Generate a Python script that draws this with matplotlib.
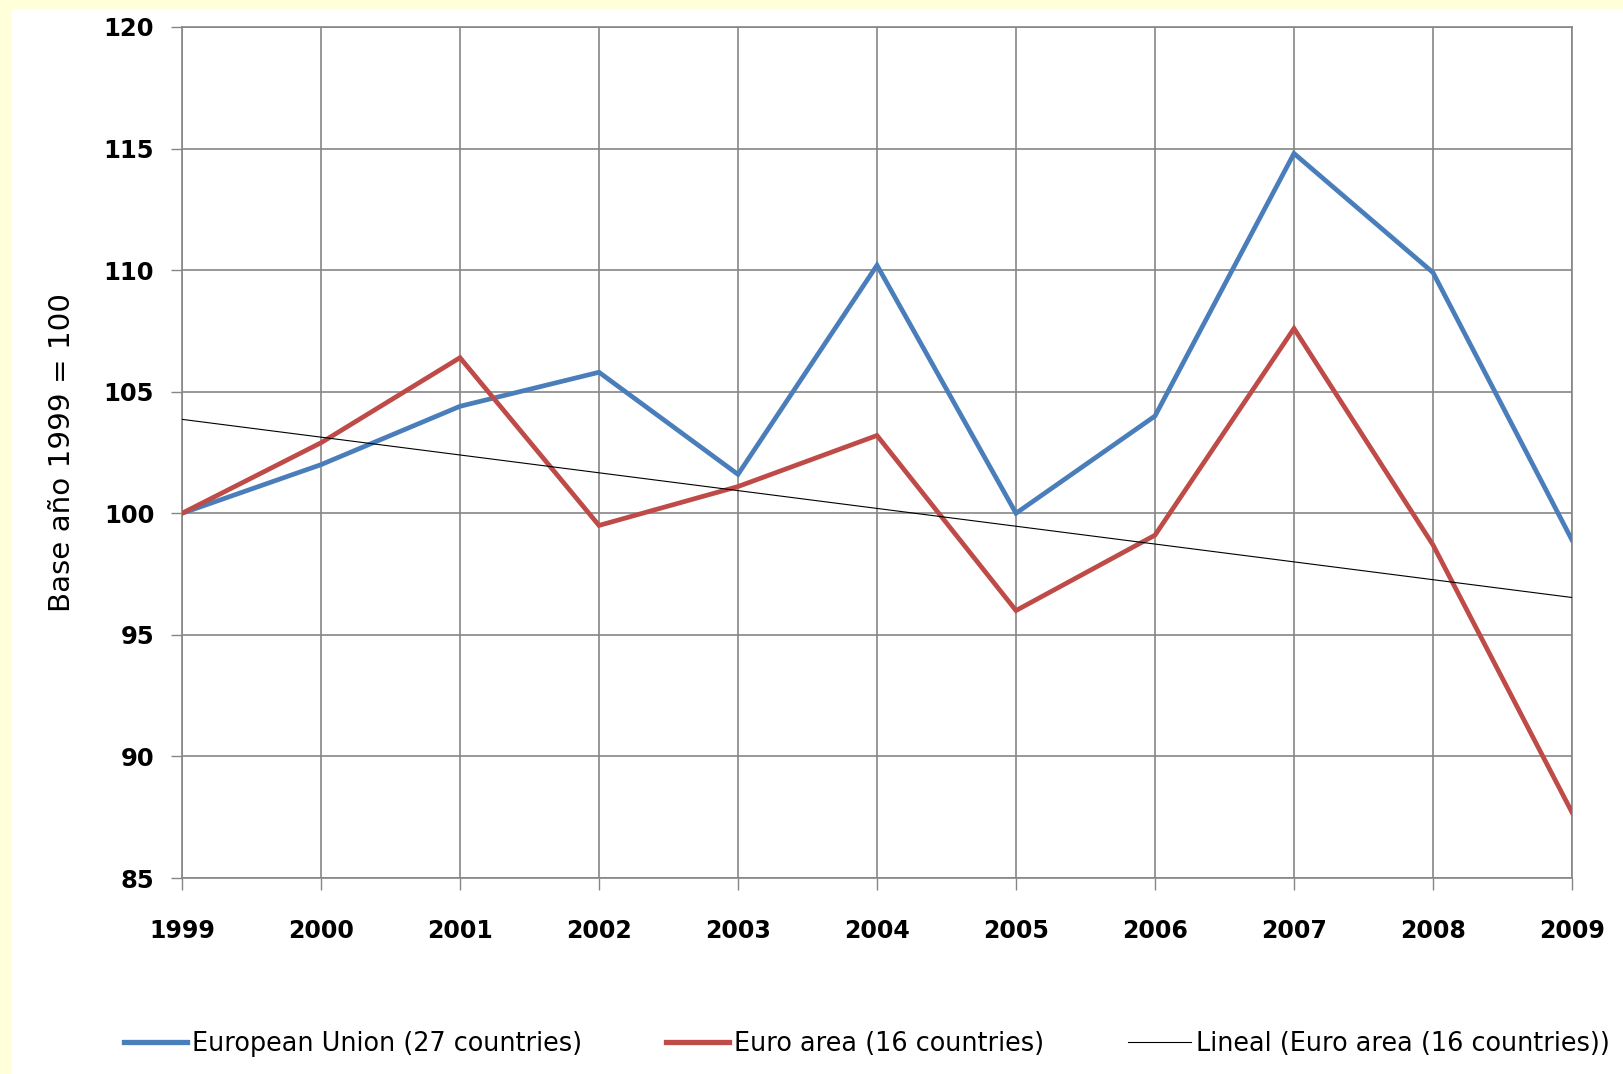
import numpy as np
import matplotlib
matplotlib.use("Agg")
import matplotlib.pyplot as plt
from matplotlib.patches import Rectangle

years = [1999, 2000, 2001, 2002, 2003, 2004, 2005, 2006, 2007, 2008, 2009]
eu27 = [100.0, 102.0, 104.4, 105.8, 101.6, 110.2, 100.0, 104.0, 114.8, 109.9, 98.9]
euro16 = [100.0, 102.9, 106.4, 99.5, 101.1, 103.2, 96.0, 99.1, 107.6, 98.7, 87.7]
labels = ["European Union (27 countries)", "Euro area (16 countries)",
          "Lineal (Euro area (16 countries))"]
yticks = [85, 90, 95, 100, 105, 110, 115, 120]
ylabel = "Base año 1999 = 100"

W, H = 1623, 1074
fig = plt.figure(figsize=(W / 100, H / 100), dpi=100, facecolor="#FFFFD9")
fig.patches.append(Rectangle((12 / W, 0), 1, 1 - 9 / H, transform=fig.transFigure,
                             facecolor="white", edgecolor="none", zorder=-10))

ax = fig.add_axes([182 / W, 1 - 878 / H, (1572 - 182) / W, (878 - 27) / H])
ax.set_zorder(1)
ax.set_facecolor("white")

grid_c = "#868686"
x = np.array(years, dtype=float)
coef = np.polyfit(x, np.array(euro16), 1)
trend = np.polyval(coef, x)

l1, = ax.plot(years, eu27, color="#4A7EBB", lw=3.4, solid_joinstyle="miter", zorder=3)
l2, = ax.plot(years, euro16, color="#BE4B48", lw=3.4, solid_joinstyle="miter", zorder=3)
l3, = ax.plot(years, trend, color="black", lw=0.8, zorder=4)

ax.set_xlim(1999, 2009)
ax.set_ylim(85, 120)
ax.set_xticks(years)
ax.set_xticklabels([str(y) for y in years])
ax.set_yticks(yticks)
ax.grid(True, color=grid_c, lw=1.2, zorder=1)
ax.set_axisbelow(True)
for s in ax.spines.values():
    s.set_color(grid_c)
    s.set_linewidth(1.2)
ax.tick_params(axis="x", length=8.5, width=1.0, color=grid_c, pad=21,
               labelsize=17, direction="out")
ax.tick_params(axis="y", length=8, width=1.0, color=grid_c, pad=12,
               labelsize=17.5, direction="out")
for t in ax.get_xticklabels() + ax.get_yticklabels():
    t.set_fontweight("bold")
    t.set_fontfamily("DejaVu Sans")

ax.set_ylabel(ylabel, fontsize=21.2, family="DejaVu Sans")
ax.yaxis.set_label_coords((76 - 182) / (1572 - 182), 0.5)

leg = fig.legend([l1, l2, l3], labels, loc="center", ncol=3,
                 bbox_to_anchor=(867 / W, 1 - 1044 / H), frameon=False,
                 fontsize=18.4, handlelength=2.45, handletextpad=0.2,
                 columnspacing=3.3, borderpad=0, borderaxespad=0)
for h in leg.legend_handles[:2]:
    h.set_linewidth(3.8)

fig.savefig("out.png", dpi=100, facecolor=fig.get_facecolor())
